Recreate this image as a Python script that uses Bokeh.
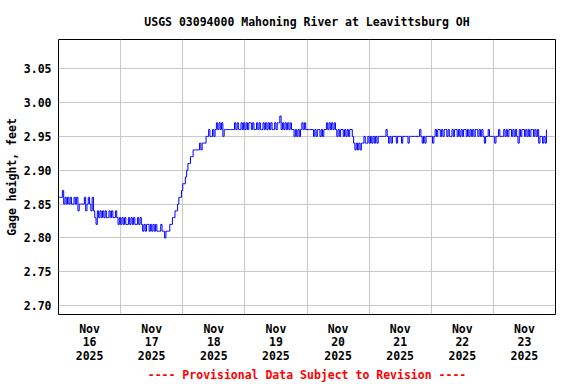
import pandas as pd
from bokeh.plotting import figure
from bokeh.models import Range1d, FixedTicker, PrintfTickFormatter
from bokeh.embed import file_html
from bokeh.resources import INLINE

title_text = "USGS 03094000 Mahoning River at Leavittsburg OH"
y_label = "Gage height, feet"
caption = "---- Provisional Data Subject to Revision ----"
day_names = ["16", "17", "18", "19", "20", "21", "22", "23"]
month_name = "Nov"
year_name = "2025"
y_ticks = [2.70, 2.75, 2.80, 2.85, 2.90, 2.95, 3.00, 3.05]

# half-hourly gage height (ft)
nov16 = [2.86, 2.86, 2.86, 2.87, 2.85, 2.86, 2.85, 2.86, 2.85, 2.86, 2.85, 2.85,
         2.86, 2.85, 2.86, 2.84, 2.85, 2.85, 2.85, 2.85, 2.86, 2.84, 2.85, 2.86,
         2.85, 2.84, 2.86, 2.84, 2.83, 2.82, 2.84, 2.83, 2.84, 2.83, 2.84, 2.83,
         2.84, 2.83, 2.83, 2.84, 2.83, 2.84, 2.83, 2.83, 2.84, 2.83, 2.82, 2.83]
nov17 = [2.82, 2.83, 2.82, 2.83, 2.82, 2.82, 2.83, 2.82, 2.83, 2.82, 2.83, 2.82,
         2.82, 2.83, 2.82, 2.83, 2.82, 2.81, 2.82, 2.81, 2.82, 2.82, 2.81, 2.82,
         2.81, 2.82, 2.81, 2.82, 2.81, 2.81, 2.81, 2.82, 2.81, 2.81, 2.80, 2.81,
         2.81, 2.81, 2.82, 2.82, 2.83, 2.83, 2.84, 2.84, 2.85, 2.86, 2.86, 2.87]
nov18 = [2.88, 2.88, 2.89, 2.90, 2.91, 2.91, 2.92, 2.92, 2.93, 2.93, 2.93, 2.93,
         2.93, 2.94, 2.93, 2.94, 2.94, 2.94, 2.95, 2.95, 2.96, 2.95, 2.95, 2.96,
         2.95, 2.96, 2.97, 2.96, 2.97, 2.96, 2.97, 2.95, 2.96, 2.96, 2.96, 2.96,
         2.96, 2.96, 2.96, 2.96, 2.97, 2.96, 2.97, 2.96, 2.96, 2.97, 2.96, 2.97]
nov19 = [2.96, 2.97, 2.96, 2.97, 2.97, 2.96, 2.97, 2.96, 2.96, 2.97, 2.96, 2.97,
         2.96, 2.96, 2.97, 2.96, 2.97, 2.96, 2.97, 2.96, 2.97, 2.96, 2.96, 2.97,
         2.96, 2.97, 2.97, 2.98, 2.96, 2.97, 2.96, 2.97, 2.96, 2.97, 2.96, 2.97,
         2.96, 2.96, 2.95, 2.96, 2.95, 2.96, 2.95, 2.96, 2.97, 2.96, 2.97, 2.96]
nov20 = [2.96, 2.96, 2.96, 2.96, 2.96, 2.95, 2.96, 2.95, 2.96, 2.96, 2.95, 2.96,
         2.95, 2.96, 2.96, 2.97, 2.96, 2.97, 2.96, 2.97, 2.96, 2.97, 2.96, 2.95,
         2.96, 2.95, 2.96, 2.96, 2.95, 2.96, 2.95, 2.96, 2.95, 2.96, 2.96, 2.95,
         2.94, 2.93, 2.94, 2.93, 2.94, 2.93, 2.94, 2.94, 2.95, 2.94, 2.94, 2.95]
nov21 = [2.94, 2.95, 2.94, 2.95, 2.94, 2.95, 2.94, 2.95, 2.95, 2.95, 2.95, 2.95,
         2.95, 2.96, 2.95, 2.94, 2.95, 2.94, 2.95, 2.95, 2.95, 2.94, 2.95, 2.95,
         2.95, 2.94, 2.95, 2.95, 2.95, 2.95, 2.94, 2.95, 2.95, 2.95, 2.95, 2.95,
         2.95, 2.95, 2.95, 2.96, 2.95, 2.94, 2.95, 2.94, 2.95, 2.95, 2.95, 2.95]
nov22 = [2.95, 2.94, 2.95, 2.96, 2.95, 2.96, 2.96, 2.95, 2.96, 2.95, 2.96, 2.96,
         2.95, 2.96, 2.95, 2.95, 2.96, 2.95, 2.96, 2.96, 2.95, 2.96, 2.95, 2.96,
         2.95, 2.96, 2.96, 2.95, 2.96, 2.95, 2.96, 2.95, 2.96, 2.95, 2.96, 2.96,
         2.95, 2.96, 2.95, 2.96, 2.95, 2.94, 2.95, 2.95, 2.96, 2.95, 2.95, 2.95]
nov23 = [2.95, 2.94, 2.95, 2.95, 2.96, 2.95, 2.95, 2.95, 2.96, 2.95, 2.96, 2.95,
         2.96, 2.96, 2.95, 2.96, 2.95, 2.96, 2.95, 2.94, 2.96, 2.95, 2.96, 2.96,
         2.95, 2.96, 2.95, 2.96, 2.95, 2.96, 2.96, 2.95, 2.96, 2.95, 2.96, 2.94,
         2.95, 2.95, 2.94, 2.95, 2.94, 2.96]

gage = nov16 + nov17 + nov18 + nov19 + nov20 + nov21 + nov22 + nov23
times = pd.date_range("2025-11-16 00:00", periods=len(gage), freq="30min")

x_start = pd.Timestamp("2025-11-16 00:00")
x_end = pd.Timestamp("2025-11-24 00:00")

FONT = "DejaVu Sans Mono"
FS = "11.5px"

p = figure(width=576, height=384, x_axis_type="datetime",
           output_backend="svg", toolbar_location=None,
           x_range=Range1d(x_start, x_end), y_range=Range1d(2.687, 3.093),
           min_border_left=58, min_border_right=21,
           min_border_top=39, min_border_bottom=68)

p.step(x=times, y=gage, mode="after", line_color="#0000ff", line_width=1)

# title
p.title.text = title_text
p.title.align = "center"
p.title.text_font = FONT
p.title.text_font_size = FS
p.title.text_font_style = "bold"
p.title.text_color = "black"
p.title.standoff = 22

p.outline_line_color = "black"
p.outline_line_width = 1
p.outline_line_alpha = 1.0
p.background_fill_color = "white"
p.border_fill_color = "white"

# x axis: labels at noon, grid at midnight
ms = lambda ts: ts.value // 10**6
noons = [ms(x_start + pd.Timedelta(hours=12 + 24 * i)) for i in range(len(day_names))]
midnights = [ms(x_start + pd.Timedelta(days=i)) for i in range(1, len(day_names))]
xa = p.xaxis[0]
xa.ticker = FixedTicker(ticks=noons)
xa.major_label_overrides = {t: f"{month_name}\n{d}\n{year_name}" for t, d in zip(noons, day_names)}
xa.major_tick_out = 0
xa.major_tick_in = 0
xa.minor_tick_out = 0
xa.minor_tick_in = 0
xa.axis_line_color = None
xa.major_label_standoff = 7
xa.major_label_text_font = FONT
xa.major_label_text_font_size = FS
xa.major_label_text_font_style = "bold"
xa.major_label_text_color = "black"
xa.major_label_text_line_height = 0.97
xa.axis_label = caption
xa.axis_label_text_font = FONT
xa.axis_label_text_font_size = FS
xa.axis_label_text_font_style = "bold"
xa.axis_label_text_color = "#ff0000"
xa.axis_label_standoff = 2

p.xgrid.ticker = FixedTicker(ticks=midnights)
p.xgrid.grid_line_color = "#c8c8c8"
p.xgrid.grid_line_width = 1

ya = p.yaxis[0]
ya.ticker = FixedTicker(ticks=y_ticks)
ya.formatter = PrintfTickFormatter(format="%.2f")
ya.major_tick_out = 0
ya.major_tick_in = 0
ya.minor_tick_out = 0
ya.minor_tick_in = 0
ya.axis_line_color = None
ya.major_label_standoff = 7
ya.major_label_text_font = FONT
ya.major_label_text_font_size = FS
ya.major_label_text_font_style = "bold"
ya.major_label_text_color = "black"
ya.axis_label = y_label
ya.axis_label_text_font = FONT
ya.axis_label_text_font_size = FS
ya.axis_label_text_font_style = "bold"
ya.axis_label_text_color = "black"
ya.axis_label_standoff = 2

p.ygrid.grid_line_color = "#c8c8c8"
p.ygrid.grid_line_width = 1

open("out.html", "w").write(file_html(p, INLINE))
